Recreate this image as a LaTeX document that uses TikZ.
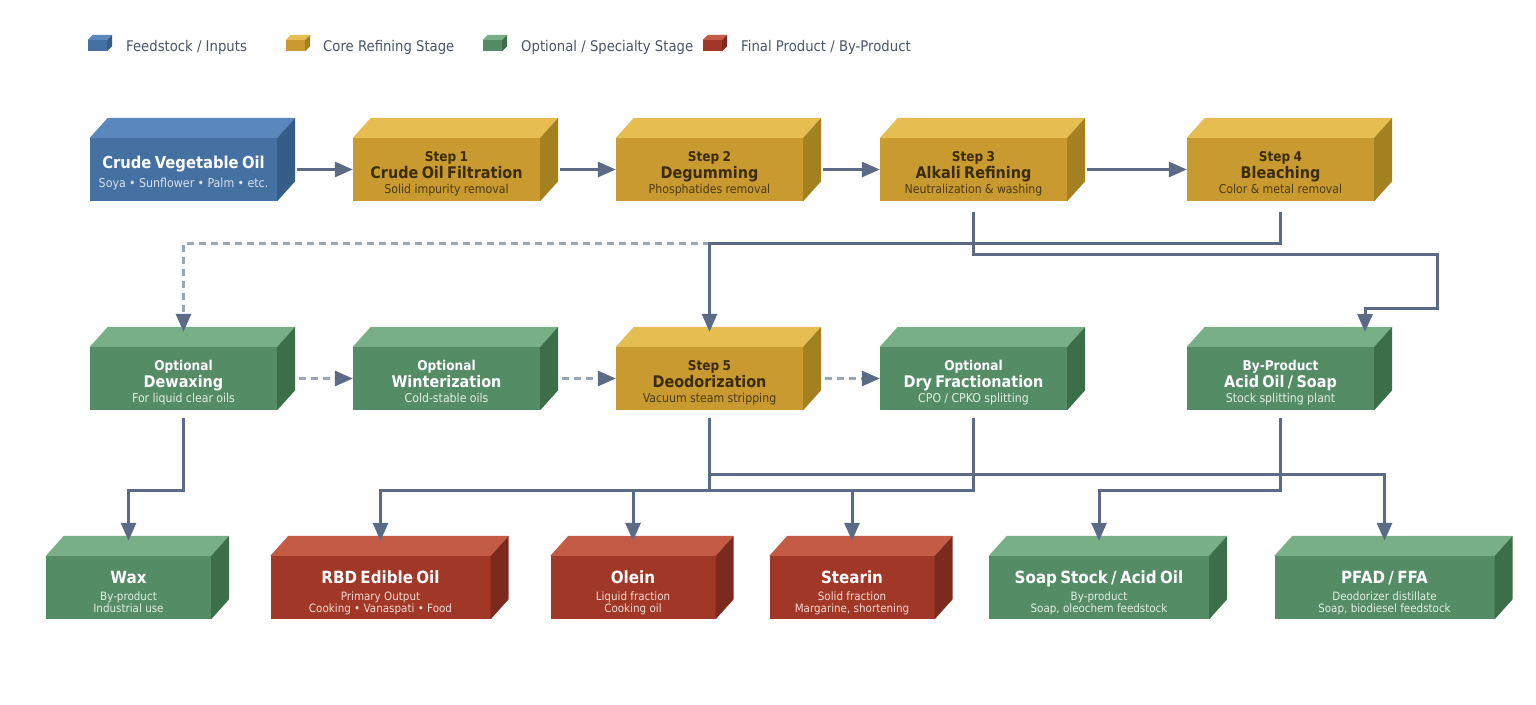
\documentclass[tikz,border=0pt]{standalone}
\usepackage{fontspec}
\setmainfont{DejaVu Sans}[FakeStretch=0.9]
\usetikzlibrary{arrows.meta}
\definecolor{blueF}{HTML}{4470A2}\definecolor{blueT}{HTML}{5B88BC}\definecolor{blueS}{HTML}{365C88}
\definecolor{goldF}{HTML}{C99A2F}\definecolor{goldT}{HTML}{E6BD50}\definecolor{goldS}{HTML}{A38020}
\definecolor{greenF}{HTML}{548C66}\definecolor{greenT}{HTML}{79AF87}\definecolor{greenS}{HTML}{3C6E4A}
\definecolor{redF}{HTML}{A03727}\definecolor{redT}{HTML}{C45B45}\definecolor{redS}{HTML}{7C2A1E}
\definecolor{connc}{HTML}{5B6B86}\definecolor{dashc}{HTML}{9AA6B6}\definecolor{legc}{HTML}{4A5568}
\definecolor{goldTxt}{HTML}{3B2C08}\definecolor{goldSub}{HTML}{4A3A12}
\definecolor{blueSub}{HTML}{D8E2EE}\definecolor{greenSub}{HTML}{E2EFE4}\definecolor{redSub}{HTML}{F5DDD6}
\newcommand\cubefaces[5]{%
 \fill[#2] (#1.north west) -- ([shift={(#4,-#5)}]#1.north west) -- ([shift={(#4,-#5)}]#1.north east) -- (#1.north east) -- cycle;
 \fill[#3] (#1.north east) -- ([shift={(#4,-#5)}]#1.north east) -- ([shift={(#4,-#5)}]#1.south east) -- (#1.south east) -- cycle;}
\newcommand\stepT[3]{{\fontsize{13.5}{15}\selectfont\bfseries\rule{0pt}{18.5pt}#1\par}{\fontsize{16}{17.8}\selectfont\bfseries #2\par}{\fontsize{12.2}{14.7}\selectfont\color{subc}#3\rule[-3pt]{0pt}{0pt}\par}}
\newcommand\twoT[2]{{\fontsize{16.4}{17.5}\selectfont\bfseries\rule{0pt}{19.5pt}#1\par}{\fontsize{12.3}{19.5}\selectfont\color{subc}#2\rule[-3pt]{0pt}{0pt}\par}}
\newcommand\prodT[3]{{\fontsize{16.8}{17.5}\selectfont\bfseries\rule{0pt}{23pt}#1\par}{\fontsize{11.5}{17}\selectfont\color{subc}#2\par}{\fontsize{11.5}{12}\selectfont\color{subc}#3\rule[-3pt]{0pt}{0pt}\par}}
\tikzset{
 box/.style={minimum width=187pt, minimum height=63pt, inner sep=0pt, text width=185pt, align=center},
 boxs/.style={box, minimum width=165pt, text width=163pt},
 boxw/.style={box, minimum width=220pt, text width=218pt},
 bluebox/.style={fill=blueF, text=white, execute at begin node=\colorlet{subc}{blueSub}},
 goldbox/.style={fill=goldF, text=goldTxt, execute at begin node=\colorlet{subc}{goldSub}},
 greenbox/.style={fill=greenF, text=white, execute at begin node=\colorlet{subc}{greenSub}},
 redbox/.style={fill=redF, text=white, execute at begin node=\colorlet{subc}{redSub}},
 legcube/.style={minimum width=19pt, minimum height=11pt, inner sep=0pt},
 legtext/.style={anchor=base west, text=legc, font=\fontsize{14.7}{16}\selectfont, inner sep=0pt},
 conn/.style={draw=connc, line width=3pt, -{Triangle[length=18pt,width=15pt,color=connc]}},
 dconn/.style={conn, draw=dashc, dash pattern=on 7pt off 5pt}
}
\begin{document}
\lineskiplimit=-6pt
\begin{tikzpicture}[x=1pt,y=-1pt]
\useasboundingbox (0,0) rectangle (1536,704);
% legend
\node[legcube, fill=blueF] (l1) at (97.5,45.5) {};
\node[legcube, fill=goldF] (l2) at (295.5,45.5) {};
\node[legcube, fill=greenF] (l3) at (492.5,45.5) {};
\node[legcube, fill=redF] (l4) at (712.5,45.5) {};
\cubefaces{l1}{blueT}{blueS}{5}{5}
\cubefaces{l2}{goldT}{goldS}{5}{5}
\cubefaces{l3}{greenT}{greenS}{5}{5}
\cubefaces{l4}{redT}{redS}{5}{5}
\node[legtext] (lt1) at (126,51) {Feedstock / Inputs};
\node[legtext] (lt2) at (323,51) {Core Refining Stage};
\node[legtext] (lt3) at (521,51) {Optional / Specialty Stage};
\node[legtext] (lt4) at (741,51) {Final Product / By-Product};
% row 1
\node[box, bluebox] (crude) at (183.5,169.5) {\twoT{Crude Vegetable Oil}{Soya • Sunflower • Palm • etc.}};
\node[box, goldbox] (s1) at (446.5,169.5) {\stepT{Step 1}{Crude Oil Filtration}{Solid impurity removal}};
\node[box, goldbox] (s2) at (709.5,169.5) {\stepT{Step 2}{Degumming}{Phosphatides removal}};
\node[box, goldbox] (s3) at (973.5,169.5) {\stepT{Step 3}{Alkali Refining}{Neutralization \& washing}};
\node[box, goldbox] (s4) at (1280.5,169.5) {\stepT{Step 4}{Bleaching}{Color \& metal removal}};
% row 2
\node[box, greenbox] (dew) at (183.5,378.5) {\stepT{Optional}{Dewaxing}{For liquid clear oils}};
\node[box, greenbox] (win) at (446.5,378.5) {\stepT{Optional}{Winterization}{Cold-stable oils}};
\node[box, goldbox] (deo) at (709.5,378.5) {\stepT{Step 5}{Deodorization}{Vacuum steam stripping}};
\node[box, greenbox] (dry) at (973.5,378.5) {\stepT{Optional}{Dry Fractionation}{CPO / CPKO splitting}};
\node[box, greenbox] (acid) at (1280.5,378.5) {\stepT{By-Product}{Acid Oil / Soap}{Stock splitting plant}};
% row 3
\node[boxs, greenbox] (wax) at (128.5,587.5) {\prodT{Wax}{By-product}{Industrial use}};
\node[boxw, redbox] (rbd) at (380.5,587.5) {\prodT{RBD Edible Oil}{Primary Output}{Cooking • Vanaspati • Food}};
\node[boxs, redbox] (olein) at (633,587.5) {\prodT{Olein}{Liquid fraction}{Cooking oil}};
\node[boxs, redbox] (stearin) at (852,587.5) {\prodT{Stearin}{Solid fraction}{Margarine, shortening}};
\node[boxw, greenbox] (soap) at (1099,587.5) {\prodT{Soap Stock / Acid Oil}{By-product}{Soap, oleochem feedstock}};
\node[boxw, greenbox] (pfad) at (1384.5,587.5) {\prodT{PFAD / FFA}{Deodorizer distillate}{Soap, biodiesel feedstock}};
% 3D faces
\cubefaces{crude}{blueT}{blueS}{18}{20}
\foreach \n in {s1,s2,s3,s4,deo}{\cubefaces{\n}{goldT}{goldS}{18}{20}}
\foreach \n in {dew,win,dry,acid,wax,soap,pfad}{\cubefaces{\n}{greenT}{greenS}{18}{20}}
\foreach \n in {rbd,olein,stearin}{\cubefaces{\n}{redT}{redS}{18}{20}}
% connectors row 1
\draw[conn] ([xshift=20pt]crude.east) -- (s1.west);
\draw[conn] ([xshift=20pt]s1.east) -- (s2.west);
\draw[conn] ([xshift=20pt]s2.east) -- (s3.west);
\draw[conn] ([xshift=20pt]s3.east) -- (s4.west);
% row1 -> row2
\coordinate (j1) at (deo.north |- 0,243);
\draw[dconn] (j1) -| ([yshift=15pt]dew.north);
\draw[conn] ([yshift=-11pt]s4.south) -- (s4.south |- 0,243) -| ([yshift=15pt]deo.north);
\coordinate (acidin) at (1365,332);
\draw[conn] ([yshift=-11pt]s3.south) -- (s3.south |- 0,254) -| (1437,308) -| (acidin);
% row 2 dashed
\draw[dconn] ([xshift=22pt]dew.east) -- (win.west);
\draw[dconn] ([xshift=22pt]win.east) -- (deo.west);
\draw[dconn] ([xshift=22pt]deo.east) -- (dry.west);
% row2 -> row3
\draw[conn] ([yshift=-8pt]dew.south) -- (dew.south |- 0,490) -| ([yshift=15pt]wax.north);
\draw[conn] ([yshift=-8pt]deo.south) -- (deo.south |- 0,490) -| ([yshift=15pt]rbd.north);
\draw[conn] ([yshift=-8pt]deo.south) -- (deo.south |- 0,474) -| ([yshift=15pt]pfad.north);
\draw[conn] ([yshift=-8pt]dry.south) -- (dry.south |- 0,490) -| ([yshift=15pt]olein.north);
\draw[conn] ([yshift=-8pt]dry.south) -- (dry.south |- 0,490) -| ([yshift=15pt]stearin.north);
\draw[conn] ([yshift=-8pt]acid.south) -- (acid.south |- 0,490) -| ([yshift=15pt]soap.north);
\end{tikzpicture}
\end{document}
